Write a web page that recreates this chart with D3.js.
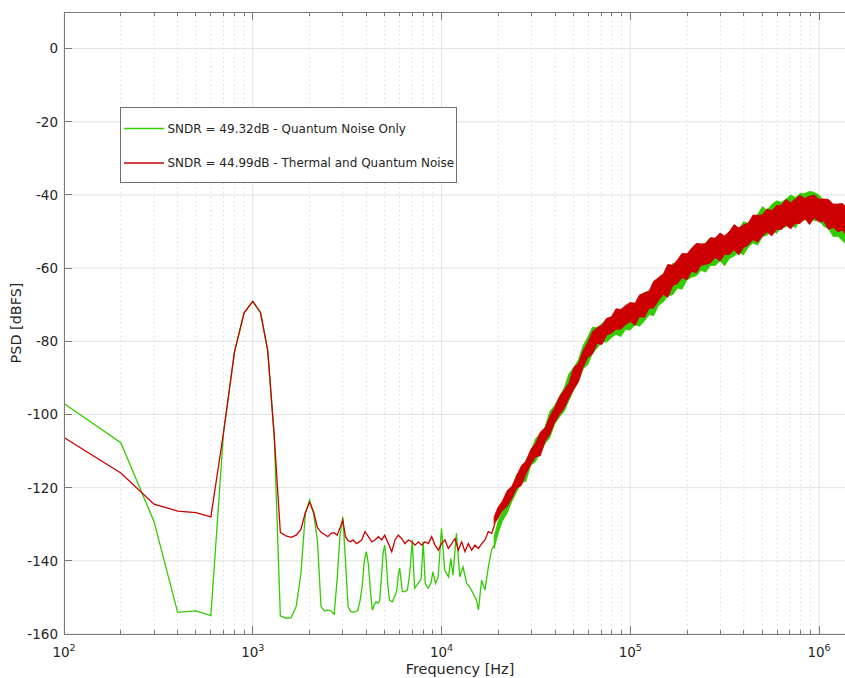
<!DOCTYPE html>
<html lang="en">
<head>
<meta charset="utf-8">
<title>PSD - quantum and thermal noise</title>
<script src="https://d3js.org/d3.v7.min.js"></script>
<style>
  body { margin: 0; background: #fff; }
  text { font-family: "DejaVu Sans", sans-serif; fill: #262626; }
</style>
</head>
<body>
<script>
// ---- data (Hz, dBFS) ----
var greenFreq = [100,200,300,400,500,600,700,800,900,1000,1100,1200,1300,1400,1500,1600,1700,1800,1900,2000,
  2100,2200,2300,2400,2500,2600,2700,2800,2900,3000,3100,3200,3300,3400,3500,3600,3700,3800,3900,4000,
  4100,4200,4300,4400,4500,4600,4700,4800,4900,5000,5100,5200,5300,5400,5500,5600,5700,5800,5900,6000,
  6100,6200,6400,6600,6800,7000,7200,7500,7800,8000,8200,8500,8800,9000,9300,9600,10000,10400,10900,11200,
  11500,12000,12500,13000,13600,14100,14700,15300,15700,16300,17000,17700,18400,19200];
var greenDb = [-97.0,-107.7,-129.3,-154.1,-153.7,-155.0,-105.0,-83.0,-72.2,-69.1,-72.2,-82.5,-106.0,-155.0,-155.7,-155.5,-152.4,-143.4,-127.1,-123.4,
  -127.1,-134.3,-152.5,-153.7,-153.4,-153.7,-154.6,-145.0,-133.0,-128.0,-140.0,-152.5,-153.9,-154.0,-153.9,-153.5,-151.0,-147.0,-140.0,-137.5,
  -141.0,-148.0,-153.5,-152.0,-151.2,-151.6,-151.0,-145.0,-138.0,-135.7,-140.0,-147.0,-150.7,-151.0,-151.2,-150.0,-149.3,-148.0,-144.0,-142.0,
  -145.0,-148.4,-148.4,-148.0,-143.0,-134.3,-147.5,-146.2,-145.0,-134.7,-146.2,-147.5,-146.0,-143.0,-146.2,-144.4,-131.2,-142.6,-144.4,-139.4,
  -143.9,-132.5,-144.4,-141.7,-146.2,-147.1,-148.9,-150.7,-153.4,-145.3,-148.0,-141.7,-137.1,-135.3];

var redFreq = [100,200,300,400,500,600,700,800,900,1000,1100,1200,1300,1400,1500,1600,1700,1800,1900,2000,
  2100,2200,2300,2400,2500,2600,2700,2800,2900,3000,3100,3200,3300,3400,3550,3780,3930,4100,4270,4440,
  4630,4820,5000,5230,5450,5670,5900,6150,6400,6670,6950,7240,7540,7850,8180,8520,8870,9240,9620,10000,
  10430,10870,11320,11790,12280,12790,13320,13870,14450,15050,15680,16330,17000,17700,18450,19200];
var redDb = [-106.3,-116.0,-124.5,-126.4,-126.8,-128.0,-105.0,-82.9,-72.2,-69.1,-72.2,-82.5,-106.0,-132.2,-133.2,-133.6,-133.0,-131.4,-126.8,-124.0,
  -126.6,-130.9,-132.2,-132.8,-133.4,-132.5,-132.3,-133.0,-131.0,-128.9,-133.4,-134.5,-134.8,-134.3,-135.3,-134.3,-132.0,-133.4,-134.8,-134.3,
  -133.4,-134.3,-133.0,-135.3,-137.5,-134.3,-133.0,-133.9,-135.3,-134.3,-134.8,-135.7,-134.8,-135.7,-134.8,-135.3,-133.4,-135.7,-137.1,-135.3,
  -134.3,-136.6,-135.3,-133.9,-137.1,-134.8,-137.5,-135.3,-137.1,-135.7,-136.6,-135.3,-134.3,-132.0,-132.5,-129.8];

// noisy high-frequency part: lower / upper edges of the trace
var bandFreq = [19000,20000,21000,22300,23600,25000,26500,28000,29700,31500,33400,35400,37500,39800,42200,44700,47300,50100,53100,56200,
  59600,63100,66800,70800,75000,79400,84100,89100,94400,100000,106000,112000,119000,126000,133000,141000,150000,158000,168000,178000,
  188000,200000,211000,224000,237000,251000,266000,282000,299000,316000,335000,355000,376000,398000,422000,447000,473000,501000,531000,562000,
  596000,631000,668000,708000,750000,794000,841000,891000,944000,1000000,1060000,1120000,1190000,1260000,1330000,1410000,1500000];
var greenLo = [-136.6,-132.4,-129.2,-126.9,-123.8,-121.2,-118.6,-118.3,-113.9,-112.9,-110.2,-108.0,-106.3,-102.6,-100.7,-99.1,-96.2,-93.4,-91.0,-87.6,
  -86.4,-83.3,-81.8,-80.2,-80.2,-79.0,-78.1,-78.7,-76.8,-76.9,-75.5,-75.9,-74.4,-72.7,-73.0,-70.3,-69.2,-67.6,-67.3,-65.4,
  -65.8,-63.2,-62.5,-62.1,-60.6,-61.1,-59.3,-59.3,-58.0,-59.4,-57.4,-56.7,-55.7,-56.4,-54.3,-53.1,-53.7,-51.4,-51.0,-49.7,
  -50.5,-48.8,-48.8,-47.5,-49.1,-46.8,-46.9,-45.7,-47.1,-46.9,-48.6,-49.1,-51.4,-51.3,-52.5,-53.8,-53.8];
var greenHi = [-133.3,-129.0,-126.8,-122.6,-120.4,-116.3,-115.7,-112.5,-110.1,-106.6,-105.3,-103.3,-99.2,-97.5,-95.1,-92.7,-88.9,-87.2,-85.1,-81.2,
  -78.8,-76.1,-76.3,-75.2,-73.9,-73.6,-71.8,-71.3,-71.2,-69.6,-69.6,-69.0,-66.5,-66.7,-64.7,-63.0,-62.6,-61.1,-58.7,-58.9,
  -58.3,-56.2,-55.8,-53.9,-54.7,-53.0,-51.6,-52.5,-51.7,-51.7,-50.0,-49.6,-49.4,-47.3,-47.8,-45.9,-45.3,-43.2,-44.1,-42.6,
  -41.6,-42.0,-41.2,-40.0,-40.7,-39.6,-39.6,-39.0,-39.3,-40.0,-41.6,-41.7,-42.5,-42.7,-43.7,-43.3,-44.6];
var redLo = [-130.0,-128.3,-126.3,-125.1,-122.9,-120.2,-119.4,-116.3,-113.7,-111.6,-111.3,-107.4,-105.4,-102.2,-100.0,-98.3,-95.6,-93.2,-91.1,-87.2,
  -84.4,-83.5,-80.6,-80.9,-78.3,-77.8,-76.7,-76.7,-75.5,-74.6,-75.7,-73.3,-73.4,-71.0,-70.9,-68.9,-67.2,-68.0,-64.8,-64.2,
  -62.6,-63.2,-60.9,-61.3,-59.2,-59.0,-58.6,-57.1,-58.1,-56.3,-56.3,-55.0,-56.4,-54.4,-53.7,-52.2,-52.9,-51.3,-50.1,-51.2,
  -49.4,-49.5,-48.2,-49.3,-47.8,-47.8,-46.5,-48.1,-46.3,-47.4,-47.2,-49.4,-48.9,-50.1,-49.6,-51.4,-50.8];
var redHi = [-128.0,-125.2,-123.7,-120.8,-119.6,-116.8,-114.0,-112.8,-109.6,-107.9,-104.8,-103.7,-100.5,-98.1,-95.1,-93.3,-91.3,-87.2,-86.0,-82.6,
  -80.2,-77.4,-76.2,-75.6,-73.7,-73.3,-71.1,-71.3,-70.2,-69.4,-69.6,-67.3,-66.8,-66.2,-63.6,-62.6,-61.5,-59.0,-59.2,-57.7,
  -56.0,-56.1,-54.6,-53.2,-53.4,-53.3,-51.7,-51.8,-50.4,-51.2,-50.0,-48.1,-49.0,-48.2,-47.7,-45.5,-45.6,-45.4,-43.8,-44.3,
  -42.9,-42.8,-41.2,-42.1,-41.1,-40.1,-41.0,-40.3,-40.0,-41.2,-41.1,-41.2,-42.5,-42.5,-42.3,-43.6,-43.7];

var xDecades = [2, 3, 4, 5, 6];           // tick labels 10^n
var xMinor = [2, 3, 4, 5, 6, 7, 8, 9];
var yTicks = [0, -20, -40, -60, -80, -100, -120, -140, -160];
var legendLabels = ["SNDR = 49.32dB - Quantum Noise Only", "SNDR = 44.99dB - Thermal and Quantum Noise"];

var green = "#33cc00", red = "#cc0000";

var w = 845, h = 678;
var pl = 64, pt = 12, pb = 634, pr = 856;   // axes box (right side runs past the window)

var svg = d3.select("body").append("svg").attr("width", w).attr("height", h);

var x = d3.scaleLog().domain([1e2, 1e6]).range([pl, 819]);
var y = d3.scaleLinear().domain([-160, 10]).range([pb, pt]);

// grid
var grid = svg.append("g");
var minorVals = [];
xDecades.forEach(function (d) {
  xMinor.forEach(function (m) { minorVals.push(m * Math.pow(10, d)); });
});
grid.selectAll(".minor").data(minorVals.filter(function (v) { return x(v) < pr; }))
  .enter().append("line")
  .attr("x1", function (d) { return x(d); }).attr("x2", function (d) { return x(d); })
  .attr("y1", pt).attr("y2", pb)
  .attr("stroke", "#dcdcdc").attr("stroke-dasharray", "1.5,3");
grid.selectAll(".major").data(xDecades)
  .enter().append("line")
  .attr("x1", function (d) { return x(Math.pow(10, d)); }).attr("x2", function (d) { return x(Math.pow(10, d)); })
  .attr("y1", pt).attr("y2", pb)
  .attr("stroke", "#e3e3e3");
grid.selectAll(".ygrid").data(yTicks)
  .enter().append("line")
  .attr("x1", pl).attr("x2", pr)
  .attr("y1", function (d) { return y(d); }).attr("y2", function (d) { return y(d); })
  .attr("stroke", "#e3e3e3");

// traces
svg.append("clipPath").attr("id", "clip").append("rect")
  .attr("x", pl).attr("y", pt).attr("width", pr - pl).attr("height", pb - pt);
var plot = svg.append("g").attr("clip-path", "url(#clip)");

var line = d3.line().x(function (d) { return x(d[0]); }).y(function (d) { return y(d[1]); });
var area = d3.area()
  .x(function (d) { return x(d[0]); })
  .y0(function (d) { return y(d[1]); })
  .y1(function (d) { return y(d[2]); });

function drawSeries(freq, db, lo, hi, col) {
  plot.append("path").datum(d3.zip(freq, db))
    .attr("d", line).attr("fill", "none").attr("stroke", col).attr("stroke-width", 1.3);
  plot.append("path").datum(d3.zip(bandFreq, lo, hi))
    .attr("d", area).attr("fill", col).attr("stroke", col).attr("stroke-width", 0.8);
}
drawSeries(greenFreq, greenDb, greenLo, greenHi, green);
drawSeries(redFreq, redDb, redLo, redHi, red);

// axes box and ticks
var ax = svg.append("g").attr("stroke", "#7a7a7a").attr("stroke-width", 1).attr("shape-rendering", "crispEdges");
ax.append("line").attr("x1", pl).attr("x2", pl).attr("y1", pt).attr("y2", pb);
ax.append("line").attr("x1", pl).attr("x2", pr).attr("y1", pb).attr("y2", pb);
ax.append("line").attr("x1", pl).attr("x2", pr).attr("y1", pt).attr("y2", pt);
xDecades.forEach(function (d) {
  var xv = x(Math.pow(10, d));
  ax.append("line").attr("x1", xv).attr("x2", xv).attr("y1", pb).attr("y2", pb - 8);
  ax.append("line").attr("x1", xv).attr("x2", xv).attr("y1", pt).attr("y2", pt + 8);
});
minorVals.forEach(function (v) {
  var xv = x(v);
  if (xv > pr) return;
  ax.append("line").attr("x1", xv).attr("x2", xv).attr("y1", pb).attr("y2", pb - 4);
  ax.append("line").attr("x1", xv).attr("x2", xv).attr("y1", pt).attr("y2", pt + 4);
});
yTicks.forEach(function (t) {
  ax.append("line").attr("x1", pl).attr("x2", pl + 8).attr("y1", y(t)).attr("y2", y(t));
});

// tick labels
svg.selectAll(".ylab").data(yTicks).enter().append("text")
  .attr("x", 58).attr("y", function (d) { return y(d); })
  .attr("dy", "0.36em").attr("text-anchor", "end").attr("font-size", 13.5)
  .text(function (d) { return d; });

var xl = svg.selectAll(".xlab").data(xDecades).enter().append("text")
  .attr("x", function (d) { return x(Math.pow(10, d)); }).attr("y", 657)
  .attr("text-anchor", "middle").attr("font-size", 13.5);
xl.append("tspan").text("10");
xl.append("tspan").attr("font-size", 9.5).attr("dy", -6).text(function (d) { return d; });

// axis titles
svg.append("text").attr("x", 460).attr("y", 674).attr("text-anchor", "middle")
  .attr("font-size", 14.4).text("Frequency [Hz]");
svg.append("text").attr("transform", "translate(21,323) rotate(-90)")
  .attr("text-anchor", "middle").attr("font-size", 14.4).text("PSD [dBFS]");

// legend
var lg = svg.append("g");
lg.append("rect").attr("x", 120.5).attr("y", 107.5).attr("width", 336).attr("height", 75)
  .attr("fill", "#fff").attr("stroke", "#6e6e6e").attr("stroke-width", 1);
[green, red].forEach(function (c, i) {
  var ly = 128.5 + i * 34.5;
  lg.append("line").attr("x1", 124).attr("x2", 164).attr("y1", ly).attr("y2", ly)
    .attr("stroke", c).attr("stroke-width", 1.3);
  lg.append("text").attr("x", 167.5).attr("y", ly).attr("dy", "0.36em")
    .attr("font-size", 12).text(legendLabels[i]);
});
</script>
</body>
</html>
